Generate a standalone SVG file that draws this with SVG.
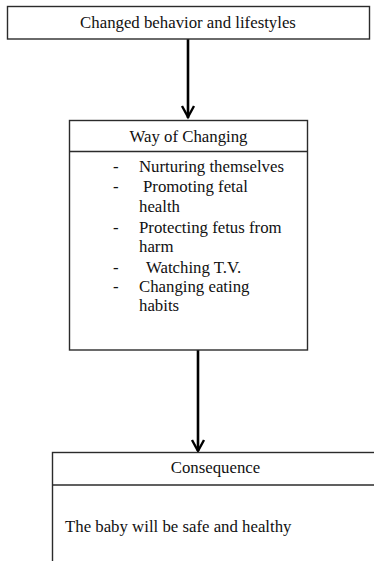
<svg xmlns="http://www.w3.org/2000/svg" width="374" height="561" viewBox="0 0 374 561">
  <style>
    .box { fill: #ffffff; stroke: #2b2b2b; stroke-width: 1.4; }
    .rule { stroke: #2b2b2b; stroke-width: 1.4; }
    .link { stroke: #000000; stroke-width: 2.6; fill: none; }
    .head { stroke: #000000; stroke-width: 2.4; fill: none; stroke-linejoin: miter; }
    .label { font-family: 'Liberation Serif', 'DejaVu Serif', 'Times New Roman', serif; font-size: 16.8px; fill: #111111; }
    .mid { text-anchor: middle; }
  </style>
  <rect width="374" height="561" fill="#ffffff"/>

  <g id="connectors">
    <line class="link" x1="188" y1="39" x2="188" y2="118"/>
    <polyline class="head" points="182,106 188,117 194,106"/>
    <line class="link" x1="198" y1="350" x2="198" y2="451"/>
    <polyline class="head" points="192,440 198,451 204,440"/>
  </g>

  <g id="changed-behavior" class="label" font-family="Liberation Serif, serif">
    <rect class="box" x="7.5" y="6.5" width="362" height="32.5"/>
    <text class="mid" x="188" y="28">Changed behavior and lifestyles</text>
  </g>

  <g id="way-of-changing" class="label" font-family="Liberation Serif, serif">
    <rect class="box" x="69.5" y="120.5" width="238" height="229.5"/>
    <line class="rule" x1="69.5" y1="151.5" x2="307.5" y2="151.5"/>
    <text class="mid" x="188.5" y="142">Way of Changing</text>
    <text x="113" y="172">-</text>
    <text x="139" y="172">Nurturing themselves</text>
    <text x="113" y="192">-</text>
    <text x="143" y="192">Promoting fetal</text>
    <text x="139" y="212">health</text>
    <text x="113" y="233">-</text>
    <text x="139" y="233">Protecting fetus from</text>
    <text x="139" y="252">harm</text>
    <text x="113" y="273">-</text>
    <text x="146" y="273">Watching T.V.</text>
    <text x="113" y="292">-</text>
    <text x="139" y="292">Changing eating</text>
    <text x="139" y="311">habits</text>
  </g>

  <g id="consequence" class="label" font-family="Liberation Serif, serif">
    <rect class="box" x="52.5" y="452.5" width="330" height="120"/>
    <line class="rule" x1="52.5" y1="485" x2="382" y2="485"/>
    <text class="mid" x="215.5" y="473">Consequence</text>
    <text x="65" y="532">The baby will be safe and healthy</text>
  </g>
</svg>
